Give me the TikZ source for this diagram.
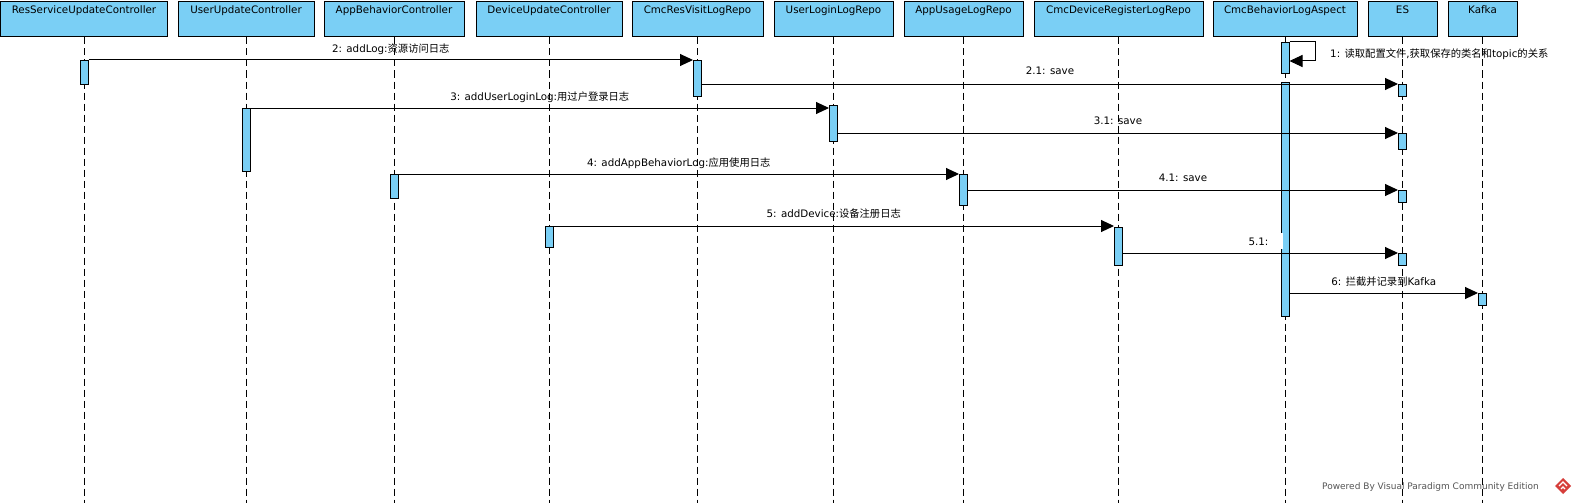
\documentclass[tikz,border=0pt]{standalone}
\usepackage{fontspec}
\setmainfont{DejaVu Sans}
\newfontfamily\cjk{Noto Sans CJK SC}
\usetikzlibrary{arrows.meta}
\definecolor{vpblue}{RGB}{122,207,245}
\definecolor{vpgray}{RGB}{85,85,85}
\definecolor{vpred}{RGB}{214,62,58}
\newcommand\zh[1]{{\cjk #1}}
\begin{document}
\begin{tikzpicture}[x=1pt,y=-1pt,
  hdr/.style={draw=black, fill=vpblue, line width=1pt, inner sep=0pt, minimum height=35pt},
  hdrtext/.style={anchor=base, inner sep=0pt, font=\fontsize{10.3}{12}\selectfont},
  life/.style={line width=1pt, dash pattern=on 7pt off 4pt},
  actbar/.style={draw=black, fill=vpblue, line width=1pt, anchor=north, inner sep=0pt, minimum width=8pt},
  msg/.style={line width=1pt, -{Triangle[length=13pt,width=12pt]}},
  lbl/.style={anchor=base, inner sep=0pt, font=\fontsize{10.3}{12}\selectfont},
]
\useasboundingbox (0,0) rectangle (1576,503);
\fill[white] (0,0) rectangle (1576,503);
\coordinate (bot) at (0,503);

% footer
\node[anchor=base west, inner sep=0pt, font=\fontsize{9}{10}\selectfont, text=vpgray] (ft) at (1322,489.3) {Powered By Visual Paradigm Community Edition};
\fill[vpred] (1563,478) -- (1571,486) -- (1563,494) -- (1555,486) -- cycle;
\draw[white, line width=1.2pt] (1559,486) -- (1563,482) -- (1567,486);
\draw[white, line width=1.2pt] (1561,489) -- (1563,487) -- (1565,489);

% headers
\node[hdr, minimum width=167pt] (h1) at (84,19.5) {};
\node[hdr, minimum width=136pt] (h2) at (246,19.5) {};
\node[hdr, minimum width=140pt] (h3) at (394,19.5) {};
\node[hdr, minimum width=146pt] (h4) at (549,19.5) {};
\node[hdr, minimum width=131pt] (h5) at (697.5,19.5) {};
\node[hdr, minimum width=119pt] (h6) at (833.5,19.5) {};
\node[hdr, minimum width=119pt] (h7) at (963.5,19.5) {};
\node[hdr, minimum width=169pt] (h8) at (1118.5,19.5) {};
\node[hdr, minimum width=144pt] (h9) at (1285,19.5) {};
\node[hdr, minimum width=69pt] (h10) at (1402.5,19.5) {};
\node[hdr, minimum width=69pt] (h11) at (1482.5,19.5) {};

\node[hdrtext] (t1) at (84,13.3) {ResServiceUpdateController};
\node[hdrtext] (t2) at (246,13.3) {UserUpdateController};
\node[hdrtext] (t3) at (394,13.3) {AppBehaviorController};
\node[hdrtext] (t4) at (549,13.3) {DeviceUpdateController};
\node[hdrtext] (t5) at (697.5,13.3) {CmcResVisitLogRepo};
\node[hdrtext] (t6) at (833.5,13.3) {UserLoginLogRepo};
\node[hdrtext] (t7) at (963.5,13.3) {AppUsageLogRepo};
\node[hdrtext] (t8) at (1118.5,13.3) {CmcDeviceRegisterLogRepo};
\node[hdrtext] (t9) at (1285,13.3) {CmcBehaviorLogAspect};
\node[hdrtext] (t10) at (1402.5,13.3) {ES};
\node[hdrtext] (t11) at (1482.5,13.3) {Kafka};

% lifelines
\foreach \n in {h1,h2,h3,h4,h5,h6,h7,h8,h9,h10,h11}
  \draw[life] (\n.south) -- (\n.south |- bot);

% activation bars
\node[actbar, minimum height=24pt] (rs1) at (84,60) {};
\node[actbar, minimum height=36pt] (cr1) at (697.5,60) {};
\node[actbar, minimum height=12pt] (es1) at (1402.5,84) {};
\node[actbar, minimum height=63pt] (uu1) at (246,108) {};
\node[actbar, minimum height=36pt] (ul1) at (833.5,105) {};
\node[actbar, minimum height=16pt] (es2) at (1402.5,133) {};
\node[actbar, minimum height=24pt] (ab1) at (394,174) {};
\node[actbar, minimum height=31pt] (au1) at (963.5,174) {};
\node[actbar, minimum height=12pt] (es3) at (1402.5,190) {};
\node[actbar, minimum height=21pt] (du1) at (549,226) {};
\node[actbar, minimum height=38pt] (dr1) at (1118.5,227) {};
\node[actbar, minimum height=12pt] (es4) at (1402.5,253) {};
\node[actbar, minimum height=31pt] (as1) at (1285,42) {};
\node[actbar, minimum height=234pt] (as2) at (1285,82) {};
\node[actbar, minimum height=12pt] (kf1) at (1482.5,293) {};

% messages
\draw[msg] (as1.north east) -- ++(26,0) -- ++(0,19) -- ([yshift=-19pt]as1.north east);
\node[lbl, anchor=base west] (m1) at (1330,58) {1: \zh{读取配置文件},\zh{获取保存的类名和}topic\zh{的关系}};

\draw[msg] (rs1.north east) -- (rs1.north east -| cr1.west)
  node[lbl, midway, yshift=7.5pt] (m2) {2: addLog:\zh{资源访问日志}};
\draw[msg] (es1.north west -| cr1.east) -- (es1.north west)
  node[lbl, midway, yshift=9.5pt] (m21) {2.1: save};
\draw[msg] (uu1.north east) -- (uu1.north east -| ul1.west)
  node[lbl, midway, yshift=8pt] (m3) {3: addUserLoginLog:\zh{用过户登录日志}};
\draw[msg] (es2.north west -| ul1.east) -- (es2.north west)
  node[lbl, midway, yshift=9pt] (m31) {3.1: save};
\draw[msg] (ab1.north east) -- (ab1.north east -| au1.west)
  node[lbl, midway, yshift=8pt] (m4) {4: addAppBehaviorLog:\zh{应用使用日志}};
\draw[msg] (es3.north west -| au1.east) -- (es3.north west)
  node[lbl, midway, yshift=9pt] (m41) {4.1: save};
\draw[msg] (du1.north east) -- (du1.north east -| dr1.west)
  node[lbl, midway, yshift=9pt] (m5) {5: addDevice:\zh{设备注册日志}};
\draw[msg] (es4.north west -| dr1.east) -- (es4.north west)
  node[lbl, midway, yshift=7.5pt, xshift=-2pt] (m51) {5.1:};
\fill[white] (1280.3,233.3) rectangle (1282.8,249.3);
\draw[msg] (kf1.north west -| as2.east) -- (kf1.north west)
  node[lbl, midway, yshift=8pt] (m6) {6: \zh{拦截并记录到}Kafka};
\end{tikzpicture}
\end{document}
